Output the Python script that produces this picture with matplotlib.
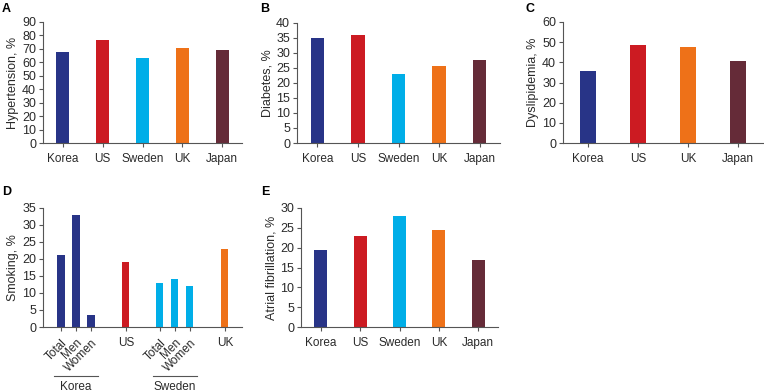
import matplotlib
matplotlib.use("Agg")
import matplotlib.pyplot as plt
import matplotlib.transforms as mtransforms

plt.rcParams['font.family'] = ['Liberation Sans', 'DejaVu Sans']
plt.rcParams['font.size'] = 7.5

NAVY = '#283487'
RED = '#cc1b22'
CYAN = '#00aee8'
ORANGE = '#ee7118'
MAROON = '#652b38'
AXC = '#555555'
TXT = '#2a2a2a'

countries = ['Korea', 'US', 'Sweden', 'UK', 'Japan']
country_colors = [NAVY, RED, CYAN, ORANGE, MAROON]

hypertension = [67.5, 76.5, 63, 71, 69]
diabetes = [35, 36, 23, 25.5, 27.7]

dys_countries = ['Korea', 'US', 'UK', 'Japan']
dys_colors = [NAVY, RED, ORANGE, MAROON]
dyslipidemia = [35.5, 48.7, 47.5, 40.5]

smoke_labels = ['Total', 'Men', 'Women', 'US', 'Total', 'Men', 'Women', 'UK']
smoke_pos = [0, 1, 2, 4.33, 6.6, 7.6, 8.6, 10.93]
smoke_colors = [NAVY, NAVY, NAVY, RED, CYAN, CYAN, CYAN, ORANGE]
smoking = [21, 33, 3.5, 19, 13, 14, 12, 23]

afib = [19.3, 23, 28, 24.5, 17]

W, H = 764, 392
fig = plt.figure(figsize=(W / 100, H / 100), dpi=100)


def make_ax(x0, x1, ytop, ybot):
    return fig.add_axes([x0 / W, 1 - ybot / H, (x1 - x0) / W, (ybot - ytop) / H])


def style(ax, ymax, step, ylabel):
    for s in ['top', 'right']:
        ax.spines[s].set_visible(False)
    for s in ['left', 'bottom']:
        ax.spines[s].set_color(AXC)
        ax.spines[s].set_linewidth(0.8)
    ax.set_ylim(0, ymax)
    ax.set_yticks(range(0, ymax + 1, step))
    ax.tick_params(colors=AXC, labelcolor=TXT, length=3, width=0.8,
                   labelsize=9, pad=2)
    ax.tick_params(axis='x', labelsize=8.5, pad=4)
    ax.set_ylabel(ylabel, fontsize=9, color=TXT, labelpad=2)


def bar_panel(ax, labels, values, colors, ymax, step, ylabel):
    xs = range(len(labels))
    ax.bar(xs, values, width=0.33, color=colors)
    ax.set_xticks(list(xs))
    ax.set_xticklabels(labels)
    ax.set_xlim(-0.5, len(labels) - 0.5)
    style(ax, ymax, step, ylabel)


axA = make_ax(43, 242, 22, 143)
bar_panel(axA, countries, hypertension, country_colors, 90, 10, 'Hypertension, %')

axB = make_ax(297, 500, 22.7, 143)
bar_panel(axB, countries, diabetes, country_colors, 40, 5, 'Diabetes, %')

axC = make_ax(563, 763, 22, 143)
bar_panel(axC, dys_countries, dyslipidemia, dys_colors, 60, 10, 'Dyslipidemia, %')

axE = make_ax(301, 498, 208, 327)
bar_panel(axE, countries, afib, country_colors, 30, 5, 'Atrial fibrillation, %')

# panel D
axD = make_ax(43, 242, 207.7, 327)
axD.bar(smoke_pos, smoking, width=0.47, color=smoke_colors)
axD.set_xticks(smoke_pos)
axD.set_xlim(-1.2, 12.07)
style(axD, 35, 5, 'Smoking, %')
axD.set_xticklabels(smoke_labels)
for lab, txt in zip(axD.get_xticklabels(), smoke_labels):
    if txt in ('Total', 'Men', 'Women'):
        lab.set_rotation(45)
        lab.set_ha('right')
        lab.set_va('top')
        lab.set_rotation_mode('anchor')

trans = mtransforms.blended_transform_factory(axD.transData, axD.transAxes)
groups = [('Korea', smoke_pos[0], smoke_pos[2]), ('Sweden', smoke_pos[4], smoke_pos[6])]
for name, a, b in groups:
    axD.plot([a - 0.45, b + 0.45], [-0.41, -0.41], color=AXC, lw=0.8,
             transform=trans, clip_on=False)
    axD.text((a + b) / 2, -0.455, name, transform=trans, ha='center', va='top',
             fontsize=8.5, color=TXT)

for letter, x, y in [('A', 2, 3), ('B', 260, 3), ('C', 525, 3), ('D', 2, 186), ('E', 261, 186)]:
    fig.text(x / W, 1 - y / H, letter, fontsize=9, fontweight='bold',
             ha='left', va='top')

fig.savefig('out.png', dpi=100)
